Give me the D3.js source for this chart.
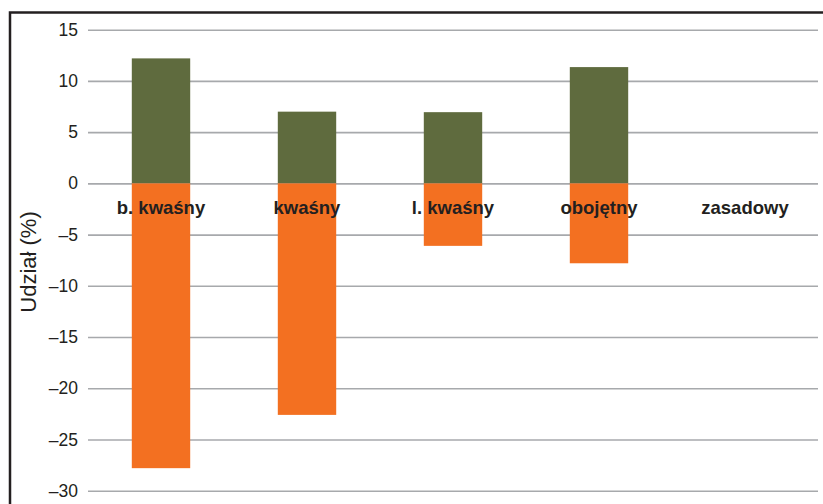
<!DOCTYPE html>
<html>
<head>
<meta charset="utf-8">
<script src="https://cdn.jsdelivr.net/npm/d3@7"></script>
<style>
  html, body { margin: 0; padding: 0; background: #fff; }
  svg { display: block; }
</style>
</head>
<body>
<svg id="chart" width="823" height="504"></svg>
<script>
// Soil reaction classes and the share changes (%) for each class
const categories = ["b. kwaśny", "kwaśny", "l. kwaśny", "obojętny", "zasadowy"];
const positiveValues = [12.2, 7.0, 6.95, 11.35, 0];
const negativeValues = [-27.8, -22.6, -6.1, -7.8, 0];
const yTicks = [15, 10, 5, 0, -5, -10, -15, -20, -25, -30];
const yTitle = "Udział (%)";

const svg = d3.select("#chart");
const W = 823, H = 504;

// frame around the figure
svg.append("rect")
  .attr("x", 10).attr("y", 12.5)
  .attr("width", W + 20).attr("height", H + 20)
  .attr("fill", "none").attr("stroke", "#231f20").attr("stroke-width", 2.5);

const plot = { left: 88, right: 818, top: 29.7, bottom: 490.7 };

const x = d3.scaleBand()
  .domain(categories)
  .range([plot.left, plot.right])
  .paddingInner(0.6).paddingOuter(0.3);

const y = d3.scaleLinear()
  .domain([15, -30])
  .range([plot.top, plot.bottom]);

// gridlines and tick labels
const yAxis = d3.axisLeft(y)
  .tickValues(yTicks)
  .tickSize(-(plot.right - plot.left))
  .tickPadding(10)
  .tickFormat(d => d < 0 ? "\u2013" + Math.abs(d) : String(d));

const gAxis = svg.append("g")
  .attr("transform", `translate(${plot.left},0)`)
  .call(yAxis);
gAxis.select(".domain").remove();
gAxis.selectAll(".tick line")
  .attr("stroke", "#a7a9ac").attr("stroke-width", 1.6);
gAxis.selectAll(".tick text")
  .attr("fill", "#231f20")
  .style("font-family", "Arial, 'Liberation Sans', sans-serif")
  .style("font-size", "17.5px");

// bars
const bars = svg.append("g");
bars.selectAll("rect.pos")
  .data(categories.map((c, i) => ({ c, v: positiveValues[i] })))
  .join("rect")
  .attr("class", "pos")
  .attr("x", d => x(d.c))
  .attr("width", x.bandwidth())
  .attr("y", d => y(Math.max(0, d.v)))
  .attr("height", d => Math.abs(y(d.v) - y(0)))
  .attr("fill", "#5f6b3e");

bars.selectAll("rect.neg")
  .data(categories.map((c, i) => ({ c, v: negativeValues[i] })))
  .join("rect")
  .attr("class", "neg")
  .attr("x", d => x(d.c))
  .attr("width", x.bandwidth())
  .attr("y", y(0))
  .attr("height", d => Math.abs(y(d.v) - y(0)))
  .attr("fill", "#f37021");

// category labels just below the zero line
svg.append("g").selectAll("text")
  .data(categories)
  .join("text")
  .attr("x", d => x(d) + x.bandwidth() / 2)
  .attr("y", y(0) + 31)
  .attr("text-anchor", "middle")
  .attr("fill", "#231f20")
  .style("font-family", "Arial, 'Liberation Sans', sans-serif")
  .style("font-weight", "bold")
  .style("font-size", "18.5px")
  .text(d => d);

// y-axis title
svg.append("text")
  .attr("transform", "translate(36, 262) rotate(-90)")
  .attr("text-anchor", "middle")
  .attr("fill", "#231f20")
  .style("font-family", "Arial, 'Liberation Sans', sans-serif")
  .style("font-size", "22px")
  .text(yTitle);
</script>
</body>
</html>
